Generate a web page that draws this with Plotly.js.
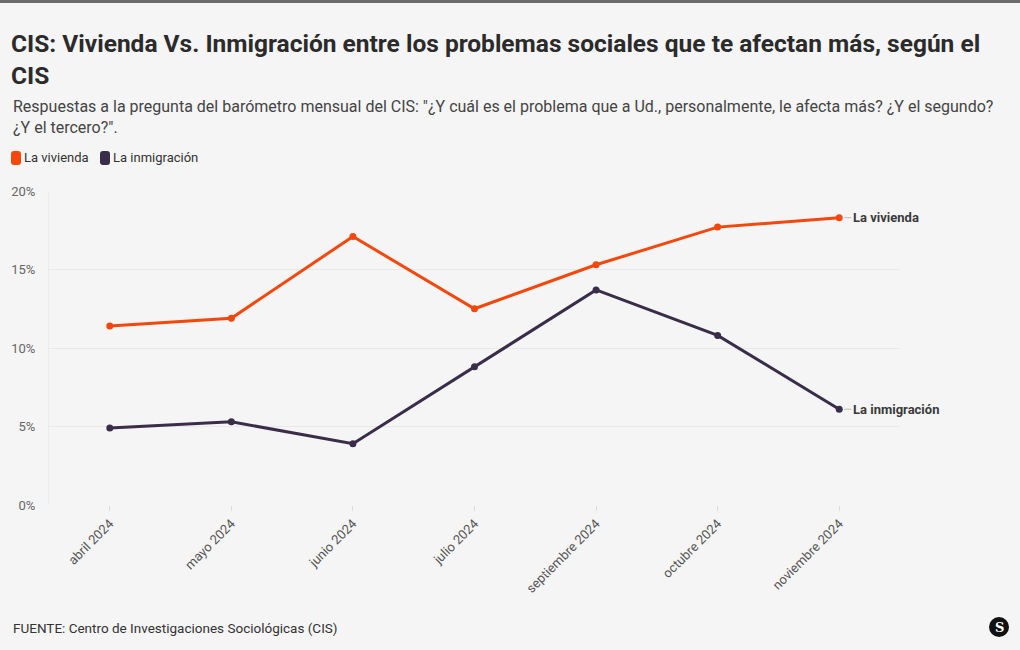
<!DOCTYPE html>
<html>
<head>
<meta charset="utf-8">
<script src="https://cdn.plot.ly/plotly-3.0.1.min.js"></script>
<style>
html,body{margin:0;padding:0;background:#f5f5f5;}
#wrap{position:relative;width:1020px;height:650px;}
#bar{position:absolute;left:0;top:0;width:1020px;height:3px;background:#6b6b6b;z-index:5;}
#chart{width:1020px;height:650px;}
</style>
</head>
<body>
<div id="wrap"><div id="bar"></div><div id="chart"></div></div>
<script>
const months = ["abril 2024","mayo 2024","junio 2024","julio 2024","septiembre 2024","octubre 2024","noviembre 2024"];
const vivienda = [11.4, 11.9, 17.1, 12.5, 15.3, 17.7, 18.3];
const inmigracion = [4.9, 5.3, 3.9, 8.8, 13.7, 10.8, 6.1];
const seriesNames = ["La vivienda", "La inmigración"];
const seriesColors = ["#f4470b", "#3a2d4a"];
const yTicks = [0, 5, 10, 15, 20];

const FONT = "Roboto, 'Open Sans', sans-serif";

const traces = [
  {x: months, y: vivienda, type: 'scatter', mode: 'lines+markers', name: seriesNames[0],
   line: {color: seriesColors[0], width: 3}, marker: {color: seriesColors[0], size: 7}, showlegend: false, hoverinfo: 'skip'},
  {x: months, y: inmigracion, type: 'scatter', mode: 'lines+markers', name: seriesNames[1],
   line: {color: seriesColors[1], width: 3}, marker: {color: seriesColors[1], size: 7}, showlegend: false, hoverinfo: 'skip'}
];

const L = 49, R = 900, T = 191, B = 505;
const pw = R - L, ph = B - T;
const px = v => (v - L) / pw;
const py = v => (B - v) / ph;

// rounded rect path in paper coords
function rrect(x0, y0, x1, y1, r) {
  const X = v => px(v), Y = v => py(v);
  return `M ${X(x0 + r)} ${Y(y0)} L ${X(x1 - r)} ${Y(y0)} Q ${X(x1)} ${Y(y0)} ${X(x1)} ${Y(y0 + r)} ` +
         `L ${X(x1)} ${Y(y1 - r)} Q ${X(x1)} ${Y(y1)} ${X(x1 - r)} ${Y(y1)} ` +
         `L ${X(x0 + r)} ${Y(y1)} Q ${X(x0)} ${Y(y1)} ${X(x0)} ${Y(y1 - r)} ` +
         `L ${X(x0)} ${Y(y0 + r)} Q ${X(x0)} ${Y(y0)} ${X(x0 + r)} ${Y(y0)} Z`;
}

const legendX = [11, 100];
const legendShapes = seriesNames.map((n, i) => ({
  type: 'path', xref: 'paper', yref: 'paper', path: rrect(legendX[i], 151, legendX[i] + 10, 165, 3),
  fillcolor: seriesColors[i], line: {width: 0}
}));
const legendTexts = seriesNames.map((n, i) => ({
  xref: 'paper', yref: 'paper', x: px(legendX[i] + 11), y: py(158), xanchor: 'left', yanchor: 'middle',
  showarrow: false, text: n, font: {family: FONT, size: 13, color: '#333'}
}));

const layout = {
  width: 1020, height: 650,
  paper_bgcolor: '#f5f5f5', plot_bgcolor: '#f5f5f5',
  margin: {l: L, r: 1020 - R, t: T, b: 650 - B, pad: 0},
  font: {family: FONT, color: '#333'},
  title: {
    text: "CIS: Vivienda Vs. Inmigración entre los problemas sociales que te afectan más, según el<br>CIS",
    font: {family: FONT, size: 24.5, color: '#2b2b2b', weight: 700},
    xref: 'container', yref: 'container', x: 11/1020, xanchor: 'left', y: 1 - 52/650, yanchor: 'top'
  },
  showlegend: false,
  xaxis: {
    type: 'category', range: [-0.5, 6.5], tickangle: -45,
    ticks: 'outside', ticklen: 5, tickcolor: '#dcdcdc', showgrid: false,
    showline: false, zeroline: false,
    tickfont: {family: FONT, size: 13, color: '#555'}, fixedrange: true
  },
  yaxis: {
    range: [0, 20], tickvals: yTicks, ticktext: yTicks.map(v => v + '%'),
    showgrid: true, gridcolor: '#e9e9e9', gridwidth: 1, zeroline: false,
    showline: true, linecolor: '#ebebeb', linewidth: 1,
    ticks: '', ticklabelstandoff: 10,
    tickfont: {family: FONT, size: 13, color: '#666'}, fixedrange: true
  },
  annotations: [
    {xref: 'paper', yref: 'paper', x: px(11), y: py(95), xanchor: 'left', yanchor: 'top', align: 'left',
     showarrow: false,
     text: 'Respuestas a la pregunta del barómetro mensual del CIS: "¿Y cuál es el problema que a Ud., personalmente, le afecta más? ¿Y el segundo?<br>¿Y el tercero?".',
     font: {family: FONT, size: 16, color: '#444'}},
    {xref: 'x', yref: 'y', x: months[6], y: vivienda[6], xanchor: 'left', yanchor: 'middle',
     showarrow: true, arrowhead: 0, arrowwidth: 1, arrowcolor: '#bbb', ax: 12, ay: 0, standoff: 5,
     text: '<b>' + seriesNames[0] + '</b>', font: {family: FONT, size: 13, color: '#3a3a3a'}},
    {xref: 'x', yref: 'y', x: months[6], y: inmigracion[6], xanchor: 'left', yanchor: 'middle',
     showarrow: true, arrowhead: 0, arrowwidth: 1, arrowcolor: '#bbb', ax: 12, ay: 0, standoff: 5,
     text: '<b>' + seriesNames[1] + '</b>', font: {family: FONT, size: 13, color: '#3a3a3a'}},
    {xref: 'paper', yref: 'paper', x: px(11), y: py(628), xanchor: 'left', yanchor: 'middle',
     showarrow: false, text: 'FUENTE: Centro de Investigaciones Sociológicas (CIS)',
     font: {family: FONT, size: 13.5, color: '#333'}},
    {xref: 'paper', yref: 'paper', x: px(999), y: py(627), xanchor: 'center', yanchor: 'middle',
     showarrow: false, text: '<b>S</b>', font: {family: 'DejaVu Serif, serif', size: 13, color: '#fff'}},
    ...legendTexts
  ],
  shapes: [
    {type: 'circle', xref: 'paper', yref: 'paper', x0: px(989), x1: px(1009), y0: py(637), y1: py(617),
     fillcolor: '#111', line: {width: 0}},
    ...legendShapes
  ]
};

Plotly.newPlot('chart', traces, layout, {displayModeBar: false, staticPlot: true});
</script>
</body>
</html>
